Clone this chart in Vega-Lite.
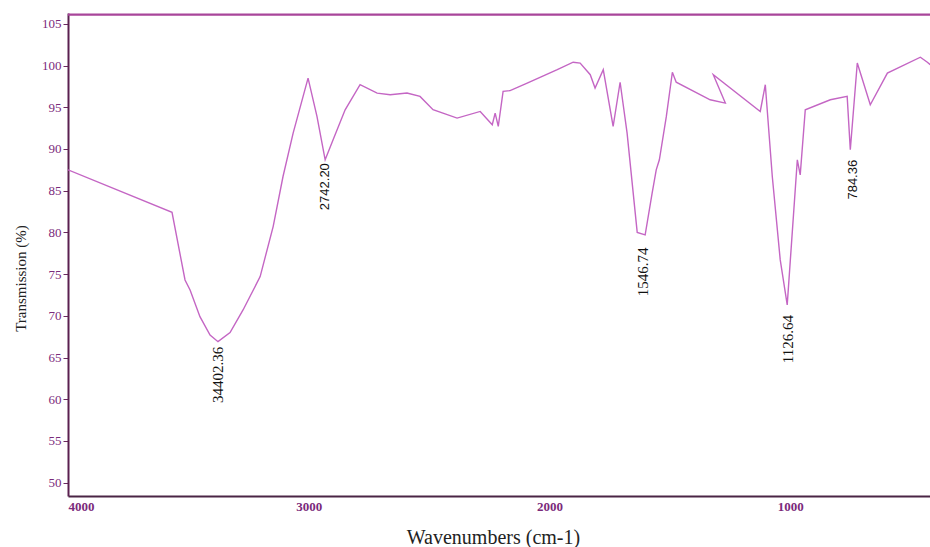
{
  "$schema": "https://vega.github.io/schema/vega-lite/v6.json",
  "width": 862,
  "height": 483,
  "autosize": {"type": "none"},
  "padding": {"left": 68, "top": 13, "right": 0, "bottom": 51},
  "background": "white",
  "config": {
    "view": {"stroke": null},
    "font": "Liberation Serif"
  },
  "datasets": {
    "spectrum": [
      {"i": 1, "wn": 4000, "t": 87.5}, {"i": 2, "wn": 3568, "t": 82.4}, {"i": 3, "wn": 3514, "t": 74.3},
      {"i": 4, "wn": 3493, "t": 73.1}, {"i": 5, "wn": 3452, "t": 69.9}, {"i": 6, "wn": 3410, "t": 67.7},
      {"i": 7, "wn": 3377, "t": 66.9}, {"i": 8, "wn": 3327, "t": 68.0}, {"i": 9, "wn": 3273, "t": 70.7},
      {"i": 10, "wn": 3202, "t": 74.7}, {"i": 11, "wn": 3148, "t": 80.7}, {"i": 12, "wn": 3107, "t": 86.7},
      {"i": 13, "wn": 3065, "t": 91.9}, {"i": 14, "wn": 3003, "t": 98.5}, {"i": 15, "wn": 2966, "t": 93.9},
      {"i": 16, "wn": 2932, "t": 88.7}, {"i": 17, "wn": 2899, "t": 91.1}, {"i": 18, "wn": 2849, "t": 94.7},
      {"i": 19, "wn": 2787, "t": 97.7}, {"i": 20, "wn": 2716, "t": 96.7}, {"i": 21, "wn": 2662, "t": 96.5},
      {"i": 22, "wn": 2592, "t": 96.7}, {"i": 23, "wn": 2538, "t": 96.3}, {"i": 24, "wn": 2484, "t": 94.7},
      {"i": 25, "wn": 2384, "t": 93.7}, {"i": 26, "wn": 2288, "t": 94.5}, {"i": 27, "wn": 2238, "t": 92.9},
      {"i": 28, "wn": 2226, "t": 94.3}, {"i": 29, "wn": 2213, "t": 92.7}, {"i": 30, "wn": 2193, "t": 96.9},
      {"i": 31, "wn": 2164, "t": 97.0}, {"i": 32, "wn": 2093, "t": 97.9}, {"i": 33, "wn": 1968, "t": 99.5},
      {"i": 34, "wn": 1902, "t": 100.4}, {"i": 35, "wn": 1873, "t": 100.3}, {"i": 36, "wn": 1831, "t": 98.9},
      {"i": 37, "wn": 1811, "t": 97.3}, {"i": 38, "wn": 1777, "t": 99.5}, {"i": 39, "wn": 1736, "t": 92.7},
      {"i": 40, "wn": 1707, "t": 98.0}, {"i": 41, "wn": 1678, "t": 91.9}, {"i": 42, "wn": 1636, "t": 80.0},
      {"i": 43, "wn": 1603, "t": 79.7}, {"i": 44, "wn": 1574, "t": 84.7}, {"i": 45, "wn": 1557, "t": 87.5},
      {"i": 46, "wn": 1544, "t": 88.7}, {"i": 47, "wn": 1515, "t": 93.9}, {"i": 48, "wn": 1490, "t": 99.2},
      {"i": 49, "wn": 1474, "t": 98.0}, {"i": 50, "wn": 1333, "t": 95.9}, {"i": 51, "wn": 1270, "t": 95.5},
      {"i": 52, "wn": 1320, "t": 98.9}, {"i": 53, "wn": 1125, "t": 94.5}, {"i": 54, "wn": 1104, "t": 97.7},
      {"i": 55, "wn": 1075, "t": 86.7}, {"i": 56, "wn": 1042, "t": 76.7}, {"i": 57, "wn": 1013, "t": 71.3},
      {"i": 58, "wn": 1000, "t": 76.7}, {"i": 59, "wn": 971, "t": 88.7}, {"i": 60, "wn": 959, "t": 86.9},
      {"i": 61, "wn": 938, "t": 94.7}, {"i": 62, "wn": 834, "t": 95.9}, {"i": 63, "wn": 764, "t": 96.3},
      {"i": 64, "wn": 751, "t": 89.9}, {"i": 65, "wn": 722, "t": 100.3}, {"i": 66, "wn": 668, "t": 95.3},
      {"i": 67, "wn": 597, "t": 99.1}, {"i": 68, "wn": 460, "t": 101.0}, {"i": 69, "wn": 431, "t": 100.4},
      {"i": 70, "wn": 419, "t": 100.1}
    ],
    "frame": [
      {"level": 106.1}
    ],
    "serifLabels": [
      {"wn": 3377, "t": 66.3, "label": "34402.36"},
      {"wn": 1611, "t": 78.2, "label": "1546.74"},
      {"wn": 1009, "t": 70.1, "label": "1126.64"}
    ],
    "sansLabels": [
      {"wn": 2932, "t": 88.3, "label": "2742.20"},
      {"wn": 739, "t": 88.7, "label": "784.36"}
    ]
  },
  "layer": [
    {
      "data": {"name": "spectrum"},
      "mark": {"type": "line", "color": "#c466c4", "strokeWidth": 1.4, "clip": true},
      "encoding": {
        "x": {
          "field": "wn", "type": "quantitative",
          "scale": {"domain": [420, 4000], "reverse": true, "nice": false, "zero": false},
          "axis": {
            "values": [4000, 3000, 2000, 1000],
            "format": "d",
            "title": "Wavenumbers (cm-1)",
            "titleFont": "Liberation Serif", "titleFontSize": 20, "titleFontWeight": "normal",
            "titleColor": "#222222", "titleX": 425, "titleY": 41, "titleBaseline": "middle",
            "labelFont": "Liberation Serif", "labelFontSize": 13, "labelColor": "#7b2a7b",
            "labelFontWeight": "bold", "labelPadding": 4,
            "ticks": false, "grid": false,
            "domainColor": "#4a2545", "domainWidth": 2
          }
        },
        "y": {
          "field": "t", "type": "quantitative",
          "scale": {"domain": [48.4, 106.3], "nice": false, "zero": false},
          "axis": {
            "values": [50, 55, 60, 65, 70, 75, 80, 85, 90, 95, 100, 105],
            "title": "Transmission (%)",
            "titleFont": "Liberation Serif", "titleFontSize": 15, "titleFontWeight": "normal",
            "titleColor": "#222222", "titleX": -48, "titleY": 265, "titleBaseline": "middle",
            "titleAlign": "center", "titleAngle": 270,
            "labelFont": "Liberation Serif", "labelFontSize": 13, "labelColor": "#7b2a7b",
            "labelPadding": 2, "tickSize": 5, "tickColor": "#6a2a60", "grid": false,
            "domainColor": "#5a2050", "domainWidth": 2
          }
        },
        "order": {"field": "i", "type": "quantitative"}
      }
    },
    {
      "data": {"name": "frame"},
      "mark": {"type": "rule", "color": "#a8459a", "strokeWidth": 2.2},
      "encoding": {"y": {"field": "level", "type": "quantitative"}}
    },
    {
      "data": {"name": "serifLabels"},
      "mark": {"type": "text", "angle": 270, "align": "right", "baseline": "middle", "font": "Liberation Serif", "fontSize": 15, "color": "#111111"},
      "encoding": {
        "x": {"field": "wn", "type": "quantitative"},
        "y": {"field": "t", "type": "quantitative"},
        "text": {"field": "label"}
      }
    },
    {
      "data": {"name": "sansLabels"},
      "mark": {"type": "text", "angle": 270, "align": "right", "baseline": "middle", "font": "Liberation Sans", "fontSize": 13, "color": "#111111"},
      "encoding": {
        "x": {"field": "wn", "type": "quantitative"},
        "y": {"field": "t", "type": "quantitative"},
        "text": {"field": "label"}
      }
    }
  ]
}
